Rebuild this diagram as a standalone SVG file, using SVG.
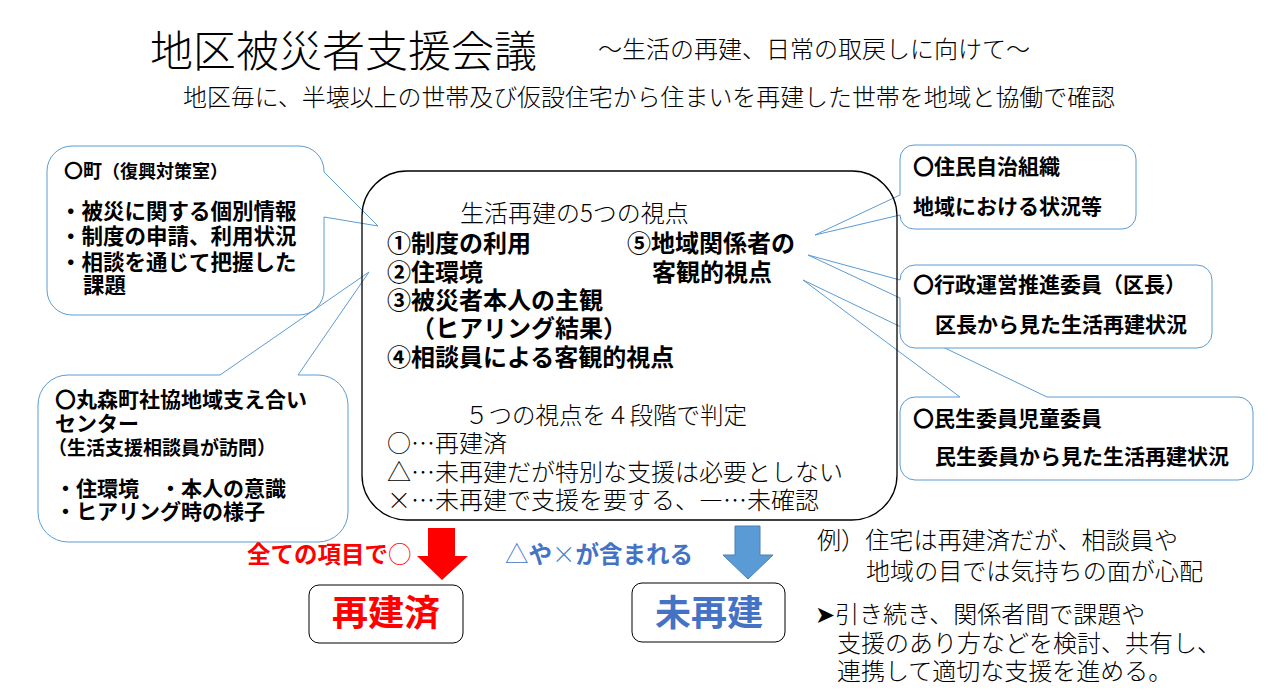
<svg xmlns="http://www.w3.org/2000/svg" width="1280" height="691" viewBox="0 0 1280 691">
<style>
.co{fill:#fff;stroke:#5B9BD5;stroke-width:1}
.b{font-family:"Noto Sans CJK JP","Noto Sans CJK SC",sans-serif;font-weight:700;fill:#000}
.l{font-family:"Noto Sans CJK JP","Noto Sans CJK SC",sans-serif;font-weight:300;fill:#000}
.bx{fill:#fff;stroke:#000;stroke-width:1}
</style>
<rect width="1280" height="691" fill="#fff"/>

<g id="title">
<text class="l" x="150" y="67" font-size="43">地区被災者支援会議</text>
<text class="l" x="598" y="58" font-size="24" textLength="432" lengthAdjust="spacingAndGlyphs">～生活の再建、日常の取戻しに向けて～</text>
<text class="l" x="183" y="106" font-size="24" textLength="932" lengthAdjust="spacingAndGlyphs">地区毎に、半壊以上の世帯及び仮設住宅から住まいを再建した世帯を地域と協働で確認</text>
</g>

<g id="callout-minsei">
<path class="co" d="M915,397 H960 L803,280 L1047,397 H1238 A15,15 0 0 1 1253,412 V465 A15,15 0 0 1 1238,480 H915 A15,15 0 0 1 900,465 V412 A15,15 0 0 1 915,397 Z"/>
<text class="b" x="913" y="426" font-size="21">〇民生委員児童委員</text>
<text class="b" x="935" y="464" font-size="21">民生委員から見た生活再建状況</text>
</g>

<g id="callout-gyosei">
<path class="co" d="M915,265 H1197 A15,15 0 0 1 1212,280 V333 A15,15 0 0 1 1197,348 H915 A15,15 0 0 1 900,333 V298 L808,255 L900,280 A15,15 0 0 1 915,265 Z"/>
<text class="b" x="913" y="292" font-size="21">〇行政運営推進委員（区長）</text>
<text class="b" x="935" y="332" font-size="21">区長から見た生活再建状況</text>
</g>

<g id="callout-jumin">
<path class="co" d="M914,145 H1122 A14,14 0 0 1 1136,159 V215 A14,14 0 0 1 1122,229 H914 A14,14 0 0 1 900,215 L815,235 L900,195 V159 A14,14 0 0 1 914,145 Z"/>
<text class="b" x="913" y="174" font-size="21">〇住民自治組織</text>
<text class="b" x="913" y="214" font-size="21">地域における状況等</text>
</g>

<g id="callout-town">
<path class="co" d="M72,146 H299 A25,25 0 0 1 324,171 V172 L378,226 L324,217 V290 A25,25 0 0 1 299,315 H72 A25,25 0 0 1 47,290 V171 A25,25 0 0 1 72,146 Z"/>
<text class="b" x="64" y="178" font-size="19">〇町<tspan font-size="18">（復興対策室）</tspan></text>
<text class="b" x="60" y="219" font-size="21.5">・被災に関する個別情報</text>
<text class="b" x="60" y="244" font-size="21.5">・制度の申請、利用状況</text>
<text class="b" x="60" y="270" font-size="21.5">・相談を通じて把握した</text>
<text class="b" x="83" y="293" font-size="21.5">課題</text>
</g>

<g id="callout-center">
<path class="co" d="M68,375 H220 L369,272 L298,375 H318 A30,30 0 0 1 348,405 V512 A30,30 0 0 1 318,542 H68 A30,30 0 0 1 38,512 V405 A30,30 0 0 1 68,375 Z"/>
<text class="b" x="55" y="407" font-size="21">〇丸森町社協地域支え合い</text>
<text class="b" x="55" y="431" font-size="21">センター</text>
<text class="b" x="48" y="455" font-size="19">（生活支援相談員が訪問）</text>
<text class="b" x="55" y="496" font-size="21">・住環境　・本人の意識</text>
<text class="b" x="55" y="519" font-size="21">・ヒアリング時の様子</text>
</g>

<g id="viewpoints">
<rect x="362" y="171" width="535" height="349" rx="45" ry="45" fill="none" stroke="#000" stroke-width="1.3"/>
<text class="l" x="460" y="222" font-size="24">生活再建の5つの視点</text>
<text class="b" x="387" y="252" font-size="24">①制度の利用</text>
<text class="b" x="627" y="252" font-size="24">⑤地域関係者の</text>
<text class="b" x="387" y="281" font-size="24">②住環境</text>
<text class="b" x="652" y="281" font-size="24">客観的視点</text>
<text class="b" x="387" y="309" font-size="24">③被災者本人の主観</text>
<text class="b" x="411" y="337" font-size="24">（ヒアリング結果）</text>
<text class="b" x="387" y="366" font-size="24">④相談員による客観的視点</text>
<text class="l" x="465" y="424" font-size="24" textLength="282" lengthAdjust="spacingAndGlyphs">５つの視点を４段階で判定</text>
<text class="l" x="387" y="452" font-size="24">○…再建済</text>
<text class="l" x="387" y="481" font-size="24" textLength="456" lengthAdjust="spacingAndGlyphs">△…未再建だが特別な支援は必要としない</text>
<text class="l" x="387" y="509" font-size="24" textLength="432" lengthAdjust="spacingAndGlyphs">×…未再建で支援を要する、―…未確認</text>
</g>

<g id="connectors">
<path d="M428,528 H455 V556 H468 L442,580 L417,556 H428 Z" fill="#FF0000"/>
<path d="M735,526 H760 V555 H773 L748,579 L723,555 H735 Z" fill="#5B9BD5" stroke="#4A7EBB" stroke-width="1"/>
</g>

<g id="label-all">
<text class="b" x="247" y="563" font-size="23.5" fill="#FF0000" style="fill:#FF0000">全ての項目で<tspan font-weight="300">○</tspan></text>
</g>
<g id="label-partial">
<text class="b" x="505" y="563" font-size="23.5" style="fill:#4472C4" textLength="188" lengthAdjust="spacingAndGlyphs"><tspan font-weight="300">△</tspan>や<tspan font-weight="300">×</tspan>が含まれる</text>
</g>

<g id="result-done">
<rect class="bx" x="309" y="585" width="154" height="58" rx="10" ry="10"/>
<text class="b" x="386" y="626" font-size="36" text-anchor="middle" style="fill:#FF0000">再建済</text>
</g>
<g id="result-notyet">
<rect class="bx" x="632" y="583" width="153" height="59" rx="10" ry="10"/>
<text class="b" x="709" y="626" font-size="36" text-anchor="middle" style="fill:#4472C4">未再建</text>
</g>

<g id="note">
<text class="l" x="817" y="549" font-size="24" textLength="361" lengthAdjust="spacingAndGlyphs">例）住宅は再建済だが、相談員や</text>
<text class="l" x="866" y="580" font-size="24" textLength="337" lengthAdjust="spacingAndGlyphs">地域の目では気持ちの面が心配</text>
<text class="l" x="815" y="623" font-size="24">➤引き続き、関係者間で課題や</text>
<text class="l" x="837" y="652" font-size="24">支援のあり方などを検討、共有し、</text>
<text class="l" x="837" y="680" font-size="24">連携して適切な支援を進める。</text>
</g>
</svg>
